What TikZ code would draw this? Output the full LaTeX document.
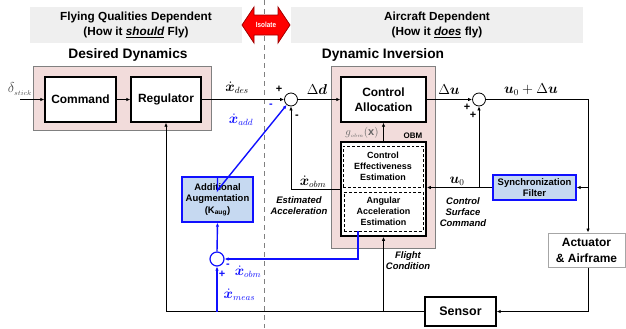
\documentclass[tikz,border=0pt]{standalone}
\usepackage{amsmath,bm}
\usepackage{fontspec}
\setmainfont{Liberation Sans}
\usetikzlibrary{arrows.meta,calc}
\definecolor{pinkbg}{HTML}{F2DCDB}
\definecolor{bannergray}{HTML}{EFEFEF}
\definecolor{augblue}{HTML}{C6D9F1}
\definecolor{lineblue}{HTML}{1010FF}
\definecolor{isored}{HTML}{FF0000}
\definecolor{isoborder}{HTML}{A00000}
\begin{document}
\begin{tikzpicture}[x=1bp,y=-1bp,
  banner/.style={fill=bannergray, draw=none, font=\bfseries\fontsize{11.8}{15}\selectfont, align=center, inner sep=0},
  ttl/.style={font=\bfseries\fontsize{13.8}{15}\selectfont, inner sep=0},
  pinkbox/.style={fill=pinkbg, draw=black!50, line width=0.8bp, inner sep=0},
  blk/.style={draw, line width=1.4bp, fill=white, font=\bfseries\fontsize{12}{14.5}\selectfont, align=center, inner sep=0},
  obmbox/.style={draw, line width=1.6bp, fill=white, inner sep=0},
  dbox/.style={draw, densely dashed, line width=0.6bp, fill=white, font=\bfseries\fontsize{9}{11.3}\selectfont, align=center, inner sep=0},
  bbox/.style={draw=lineblue, line width=1.4bp, fill=augblue, font=\bfseries\fontsize{9.5}{11.5}\selectfont, align=center, inner sep=0},
  gbox/.style={draw=black!35, line width=1bp, fill=white, font=\bfseries\fontsize{12}{16}\selectfont, align=center, inner sep=0},
  sumj/.style={circle, draw, line width=0.8bp, fill=white, minimum size=13bp, inner sep=0},
  bsumj/.style={circle, draw=lineblue, line width=1.2bp, fill=white, minimum size=14bp, inner sep=0},
  arr/.style={draw, line width=0.9bp, -{Latex[length=4bp,width=3.5bp]}},
  barr/.style={draw=lineblue, line width=1.4bp, -{Latex[length=4bp,width=3.5bp]}},
  mlab/.style={font=\fontsize{13.5}{15}\selectfont, inner sep=0},
  ilab/.style={font=\bfseries\itshape\fontsize{9.5}{11.2}\selectfont, align=center, inner sep=0},
  sgn/.style={font=\bfseries\fontsize{11}{12}\selectfont, inner sep=0}
]
\useasboundingbox (0,0) rectangle (626,328);

% banners
\node[banner, minimum width=212bp, minimum height=36bp] (bl) at (136,25) {Flying Qualities Dependent\\(How it \underline{\itshape should} Fly)};
\node[banner, minimum width=292bp, minimum height=36bp] (br) at (437,25) {Aircraft Dependent\\(How it \underline{\itshape does} fly)};

% isolate divider
\draw[black!50, line width=0.8bp, dash pattern=on 5bp off 4bp] (264,0) -- (264,328);
\draw[fill=isored, draw=isoborder, line width=0.8bp] (242,25) -- (254,7) -- (254,15) -- (278,15) -- (278,7) -- (290,25) -- (278,43) -- (278,35) -- (254,35) -- (254,43) -- cycle;
\node[text=white, font=\bfseries\fontsize{7.5}{9}\selectfont, inner sep=0] (iso) at (266,25) {\addfontfeature{FakeStretch=0.85}Isolate};

% Desired dynamics
\node[ttl] (tdd) at (128,55) {Desired Dynamics};
\node[pinkbox, minimum width=178bp, minimum height=64bp] (pdd) at (122,98) {};
\node[blk, minimum width=71bp, minimum height=45bp] (cmd) at (80.5,99.5) {Command};
\node[blk, minimum width=70bp, minimum height=45bp] (reg) at (166,99.5) {Regulator};
\node[mlab, text=black!70] (dst) at (20,89) {$\delta_{\scriptscriptstyle stick}$};
\coordinate (din) at (20,99.5);

% Dynamic inversion
\node[ttl] (tdi) at (383,55) {Dynamic Inversion};
\node[pinkbox, minimum width=104bp, minimum height=182bp] (pdi) at (383,157) {};
\node[blk, minimum width=85bp, minimum height=45bp] (ca) at (383.5,99.5) {Control\\Allocation};
\node[obmbox, minimum width=85bp, minimum height=94bp] (obm) at (383.5,189) {};
\node[dbox, minimum width=80bp, minimum height=41bp] (ce) at (383,166.5) {Control\\Effectiveness\\Estimation};
\node[dbox, minimum width=79bp, minimum height=39bp] (aae) at (383.5,211.5) {Angular\\Acceleration\\Estimation};
\node[font=\bfseries\fontsize{8}{9}\selectfont, inner sep=0] (obml) at (413,136) {OBM};
\node[font=\fontsize{11}{12}\selectfont, text=black!60, inner sep=0] (gobm) at (362,133) {$g_{\scriptscriptstyle obm}(\mathbf{x})$};

% summing junctions
\node[sumj] (s1) at (291,99.5) {};
\node[sumj] (s2) at (479,99.5) {};
\node[bsumj] (s3) at (217,259) {};

% other blocks
\node[bbox, minimum width=83bp, minimum height=25bp] (sync) at (534.5,187.5) {Synchronization\\Filter};
\node[gbox, minimum width=77bp, minimum height=34bp] (act) at (586.5,250) {Actuator\\\& Airframe};
\node[blk, font=\bfseries\fontsize{12.5}{14}\selectfont, minimum width=71bp, minimum height=29bp] (sen) at (460.5,311.5) {Sensor};
\node[bbox, minimum width=71bp, minimum height=45bp] (aug) at (217.5,199.5) {Additional\\Augmentation\\(K$_{\text{aug}}$)};

% coordinates
\coordinate (c1) at (588,99.5);
\coordinate (jn) at (s2 |- sync.west);
\coordinate (aaeb) at ([xshift=-25.5bp]aae.south);
\coordinate (augb) at ([yshift=-14bp]aug.north);

% black connectors
\draw[arr] (din) -- (cmd.west);
\draw[arr] (cmd.east) -- (reg.west);
\draw[arr] (reg.east) -- (s1.west);
\draw[arr] (s1.east) -- (ca.west);
\draw[arr] (ca.east) -- (s2.west);
\draw[arr] (s2.east) -- (c1) -- (c1 |- act.north);
\draw[arr] (c1 |- sync.east) -- (sync.east);
\draw[arr] (sync.west) -- (sync.west -| obm.east);
\draw[arr] (jn) -- (s2.south);
\draw[arr] (c1 |- act.south) -- (c1 |- sen.east) -- (sen.east);
\draw[arr] (sen.west) -| (reg.south);
\draw[arr] (sen.west -| obm.south) -- (obm.south);
\draw[arr] (obm.north) -- (ca.south);
\draw[arr] (obm.west) -| (s1.south);

% blue connectors
\draw[barr] (aaeb) |- (s3.east);
\draw[barr] (s3 |- sen.west) -- (s3.south);
\draw[barr] (s3.north) -- (aug.south);
\draw[barr] (aug.north) -- (augb) -- (s1);

% signs
\node[sgn] (p1) at (279,89) {+};
\node[sgn, text=lineblue] (m1) at (271,106) {-};
\node[sgn] (m2) at (297,117) {-};
\node[sgn] (p2) at (467,107) {+};
\node[sgn] (p3) at (473,115) {+};
\node[sgn, text=lineblue] (m3) at (228,266) {-};
\node[sgn, text=lineblue] (p4) at (222,274) {+};

% labels
\node[mlab] (lxdes) at (237,88) {$\dot{\bm{x}}_{des}$};
\node[mlab] (ldd) at (317,90) {$\Delta\bm{d}$};
\node[mlab] (ldu) at (449,90) {$\Delta\bm{u}$};
\node[mlab] (lu0du) at (531,90) {$\bm{u}_0+\Delta\bm{u}$};
\node[mlab] (lu0) at (457,181) {$\bm{u}_0$};
\node[mlab] (lxobm) at (313,182) {$\dot{\bm{x}}_{obm}$};
\node[mlab, text=lineblue] (lxadd) at (241,120) {$\dot{\bm{x}}_{add}$};
\node[mlab, text=lineblue] (lxobm2) at (248,272) {$\dot{\bm{x}}_{obm}$};
\node[mlab, text=lineblue] (lxmeas) at (239.5,295) {$\dot{\bm{x}}_{meas}$};
\node[ilab] (lest) at (299,205.5) {Estimated\\Acceleration};
\node[ilab] (lcsc) at (463,212) {Control\\Surface\\Command};
\node[ilab] (lfc) at (408,261) {Flight\\Condition};
\end{tikzpicture}
\end{document}
